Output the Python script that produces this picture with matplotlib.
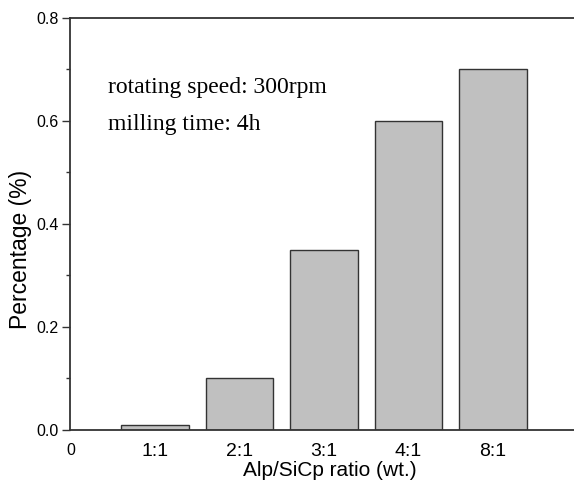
import numpy as np
import matplotlib
matplotlib.use('Agg')
import matplotlib.pyplot as plt
from matplotlib.ticker import MultipleLocator

# Data
ratios = ['1:1', '2:1', '3:1', '4:1', '8:1']
percentage = [0.01, 0.10, 0.35, 0.60, 0.70]
positions = np.arange(1, len(ratios) + 1)

plt.rcParams['font.family'] = ['Liberation Sans', 'DejaVu Sans']

fig = plt.figure(figsize=(5.74, 4.86), dpi=100)
ax = fig.add_axes([0.1228, 0.1152, 0.88, 0.8484])

ax.bar(positions, percentage, width=0.8, color='#c0c0c0',
       edgecolor='#333333', linewidth=1.0, zorder=2)

ax.set_xlim(0, 5.98)
ax.set_ylim(0, 0.8)
ax.set_xticks(np.concatenate([[0], positions]))
ax.set_xticklabels(['0'] + ratios, fontsize=14)
ax.get_xticklabels()[0].set_fontsize(11.5)
ax.tick_params(axis='x', length=0, pad=9)

ax.set_yticks(np.arange(0, 0.81, 0.2))
ax.set_yticklabels([f'{v:.1f}' for v in np.arange(0, 0.81, 0.2)])
ax.yaxis.set_minor_locator(MultipleLocator(0.1))
ax.tick_params(axis='y', which='major', length=5.5, width=1.0,
               direction='out', labelsize=11.5, colors='#333333',
               labelcolor='black', pad=3)
ax.tick_params(axis='y', which='minor', length=3, width=1.0,
               direction='out', colors='#333333')

for side in ['left', 'top', 'bottom']:
    ax.spines[side].set_color('#333333')
    ax.spines[side].set_linewidth(1.3)
ax.spines['right'].set_visible(False)

ax.set_xlabel('Alp/SiCp ratio (wt.)', fontsize=15, labelpad=2)
ax.xaxis.set_label_coords(0.513, -0.075)
ax.set_ylabel('Percentage (%)', fontsize=16.5)
ax.yaxis.set_label_coords(-0.077, 0.437)

ax.text(0.444, 0.654, 'rotating speed: 300rpm', fontsize=17,
        family='Liberation Serif', va='baseline', ha='left')
ax.text(0.444, 0.582, 'milling time: 4h', fontsize=17,
        family='Liberation Serif', va='baseline', ha='left')

fig.savefig('out.png', dpi=100)
